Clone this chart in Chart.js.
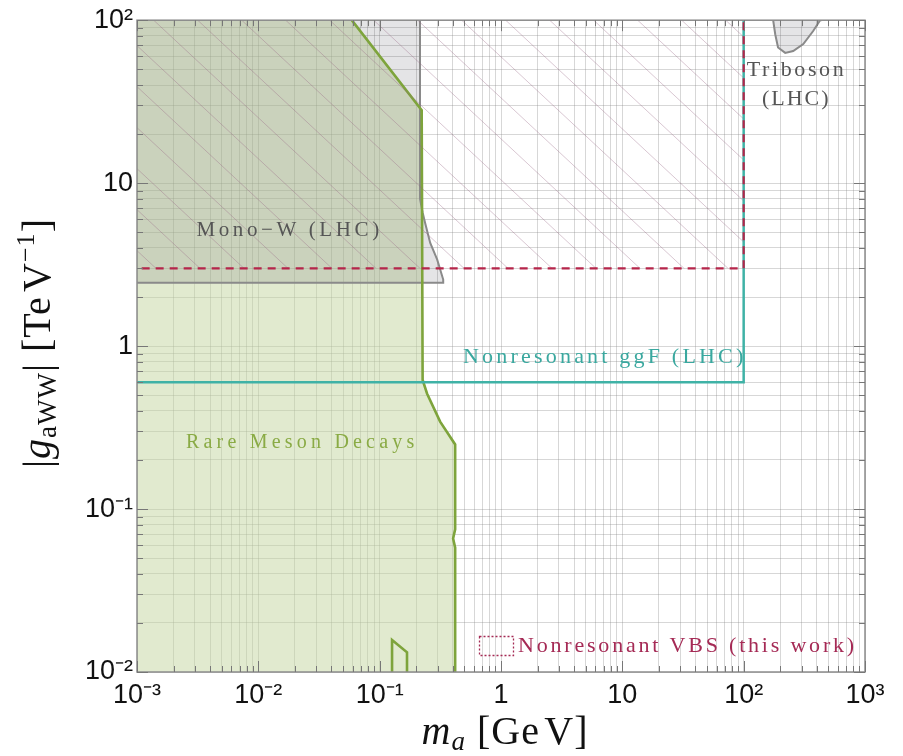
<!DOCTYPE html>
<html>
<head>
<meta charset="utf-8">
<script src="https://cdn.jsdelivr.net/npm/chart.js@4.4.0/dist/chart.umd.min.js"></script>
<style>
    body { margin: 0; background: #fff; }
    #wrap { position: relative; width: 903px; height: 756px; }
    .axt { position: absolute; font-family: "Liberation Serif", serif; font-size: 40px; color: #111; white-space: nowrap; line-height: 44px; text-align: center; }
    #xt { left: 305px; top: 709px; width: 400px; letter-spacing: 1px; }
    #yt { left: -163px; top: 321px; width: 400px; height: 44px; transform: rotate(-90deg); letter-spacing: 1px; }
    .axt sub { font-size: 27px; vertical-align: -6px; line-height: 0; }
    .axt sup { font-size: 26px; vertical-align: 16px; line-height: 0; }
</style>
</head>
<body>
<div id="wrap">
    <canvas id="c" width="903" height="756"></canvas>
    <div class="axt" id="xt"><i>m</i><sub><i>a</i></sub> [Ge&#8202;V]</div>
    <div class="axt" id="yt">|<i>g</i><sub>aWW</sub>| [Te&#8202;V<sup>&minus;1</sup>]</div>
</div>
<script>
    // tick labels
    const xTickValues = [1e-3, 1e-2, 1e-1, 1, 10, 100, 1000];
    const xTickLabels = ['10⁻³', '10⁻²', '10⁻¹', '1', '10', '10²', '10³'];
    const yTickValues = [1e-2, 1e-1, 1, 10, 100];
    const yTickLabels = ['10⁻²', '10⁻¹', '1', '10', '10²'];

    // rare meson decays (closed outline, outer corners lie outside the plot)
    const mesonX = [1e-4, 0.059, 0.059, 0.222, 0.226, 0.246, 0.315, 0.419, 0.419, 0.403, 0.419, 0.419, 1e-4];
    const mesonY = [1e3, 1e3, 100, 28, 0.62, 0.51, 0.344, 0.249, 0.075, 0.066, 0.058, 1e-3, 1e-3];
    const spikeX = [0.1265, 0.1265, 0.168, 0.168];
    const spikeY = [0.005, 0.0157, 0.0132, 0.005];

    // mono-W (LHC)
    const monoX = [1e-4, 0.334, 0.334, 0.298, 0.261, 0.237, 0.226, 0.215, 0.215, 1e-4];
    const monoY = [2.45, 2.45, 2.56, 3.39, 4.3, 5.7, 6.6, 8, 1e3, 1e3];

    // triboson (LHC)
    const triX = [172, 175, 182, 192, 220, 256, 310, 374, 427, 430];
    const triY = [300, 100, 82, 68, 63, 64.7, 71.4, 85.8, 100, 300];

    // nonresonant ggF (LHC)
    const ggfX = [1e-4, 100, 100];
    const ggfY = [0.6, 0.6, 1e3];

    // nonresonant VBS (this work)
    const vbsX = [1e-4, 100, 100, 1e-4];
    const vbsY = [3, 3, 1e3, 1e3];

    const pts = (xs, ys) => xs.map((v, i) => ({ x: v, y: ys[i] }));

    function hatch() {
        const t = document.createElement('canvas');
        const w = 44, h = 41;
        t.width = w; t.height = h;
        const g = t.getContext('2d');
        g.strokeStyle = 'rgba(150,100,130,0.36)';
        g.lineWidth = 1;
        for (const dx of [-w, 0, w]) {
            g.beginPath();
            g.moveTo(dx, 0);
            g.lineTo(dx + w, h);
            g.stroke();
        }
        return g.createPattern(t, 'repeat');
    }

    function logTicks(lo, hi) {
        const out = [];
        for (let e = lo; e < hi; e++) {
            for (let m = 1; m < 10; m++) out.push({ value: m * Math.pow(10, e) });
        }
        out.push({ value: Math.pow(10, hi) });
        return out;
    }

    function labelFor(v, vals, labs) {
        const i = vals.findIndex(d => Math.abs(Math.log10(v) - Math.log10(d)) < 1e-6);
        return i < 0 ? '' : labs[i];
    }

    const isDecade = v => Math.abs(Math.log10(v) - Math.round(Math.log10(v))) < 1e-6;

    const notes = [
        { text: 'Mono\u2212W (LHC)', x: 0.0175, y: 5.1, size: 21, ls: 3.6, color: '#555' },
        { text: 'Triboson', x: 266, y: 49.5, size: 22, ls: 2.6, color: '#555' },
        { text: '(LHC)', x: 266, y: 32.8, size: 22, ls: 2, color: '#555' },
        { text: 'Nonresonant ggF (LHC)', x: 6.95, y: 0.857, size: 22, ls: 3.2, color: '#3aa89f' },
        { text: 'Rare Meson Decays', x: 0.0221, y: 0.256, size: 20, ls: 4.2, color: '#8aab45' }
    ];

    const overlay = {
        id: 'overlay',
        afterDatasetsDraw(chart) {
            const { ctx, chartArea: a, scales: { x, y } } = chart;
            ctx.save();
            ctx.strokeStyle = '#8c8c8c';
            ctx.lineWidth = 1.5;
            ctx.strokeRect(a.left, a.top, a.right - a.left, a.bottom - a.top);

            ctx.strokeStyle = '#777';
            ctx.lineWidth = 1;
            ctx.beginPath();
            x.ticks.forEach(t => {
                const px = Math.round(x.getPixelForValue(t.value)) + 0.5;
                const len = isDecade(t.value) ? 11 : 6;
                ctx.moveTo(px, a.bottom); ctx.lineTo(px, a.bottom - len);
                ctx.moveTo(px, a.top); ctx.lineTo(px, a.top + len);
            });
            y.ticks.forEach(t => {
                const py = Math.round(y.getPixelForValue(t.value)) + 0.5;
                const len = isDecade(t.value) ? 11 : 6;
                ctx.moveTo(a.left, py); ctx.lineTo(a.left + len, py);
                ctx.moveTo(a.right, py); ctx.lineTo(a.right - len, py);
            });
            ctx.stroke();

            ctx.textAlign = 'center';
            ctx.textBaseline = 'middle';
            notes.forEach(n => {
                ctx.font = n.size + 'px "Liberation Serif"';
                ctx.letterSpacing = n.ls + 'px';
                ctx.fillStyle = n.color;
                ctx.fillText(n.text, x.getPixelForValue(n.x) + n.ls / 2, y.getPixelForValue(n.y));
            });

            // legend
            ctx.setLineDash([2, 2]);
            ctx.strokeStyle = '#a52a55';
            ctx.lineWidth = 1.3;
            ctx.strokeRect(a.left + 342.5, a.bottom - 35.5, 34, 19);
            ctx.setLineDash([]);
            ctx.font = '22px "Liberation Serif"';
            ctx.letterSpacing = '2.8px';
            ctx.fillStyle = '#a52a55';
            ctx.textAlign = 'left';
            ctx.fillText('Nonresonant VBS (this work)', a.left + 381, a.bottom - 26);
            ctx.restore();
        }
    };

    const gridColor = 'rgba(140,140,140,0.35)';

    new Chart(document.getElementById('c'), {
        type: 'scatter',
        data: {
            datasets: [
                { label: 'VBS', data: pts(vbsX, vbsY), order: 0, showLine: true, pointRadius: 0,
                  borderColor: '#b5254a', borderWidth: 2.2, borderDash: [8, 6], fill: 'shape', backgroundColor: hatch() },
                { label: 'ggF', data: pts(ggfX, ggfY), order: 1, showLine: true, pointRadius: 0,
                  borderColor: '#3fb2a6', borderWidth: 2.5, fill: false },
                { label: 'Meson line', data: pts(mesonX, mesonY), order: 2, showLine: true, pointRadius: 0,
                  borderColor: '#7ea43c', borderWidth: 2.6, fill: false },
                { label: 'Meson spike', data: pts(spikeX, spikeY), order: 2, showLine: true, pointRadius: 0,
                  borderColor: '#7ea43c', borderWidth: 2.6, fill: false },
                { label: 'Mono-W', data: pts(monoX, monoY), order: 3, showLine: true, pointRadius: 0,
                  borderColor: '#8a8a8a', borderWidth: 2, fill: 'shape', backgroundColor: 'rgba(50,50,60,0.13)' },
                { label: 'Triboson', data: pts(triX, triY), order: 3, showLine: true, pointRadius: 0,
                  borderColor: '#8a8a8a', borderWidth: 2, fill: 'shape', backgroundColor: 'rgba(50,50,60,0.13)' },
                { label: 'Meson fill', data: pts(mesonX, mesonY), order: 4, showLine: true, pointRadius: 0,
                  borderWidth: 0, borderColor: 'rgba(0,0,0,0)', fill: 'shape', backgroundColor: 'rgba(195,214,160,0.5)' }
            ]
        },
        options: {
            responsive: false,
            devicePixelRatio: 1,
            animation: false,
            events: [],
            layout: { padding: { top: 16, right: 38, left: 0, bottom: 0 } },
            plugins: { legend: { display: false }, tooltip: { enabled: false } },
            elements: { line: { tension: 0 } },
            scales: {
                x: {
                    type: 'logarithmic', min: 1e-3, max: 1e3,
                    afterBuildTicks: s => { s.ticks = logTicks(-3, 3); },
                    afterFit: s => { s.height = 84; },
                    grid: { color: gridColor, drawTicks: false },
                    border: { display: false },
                    ticks: {
                        autoSkip: false, maxRotation: 0, padding: 7, color: '#111',
                        font: { family: 'Liberation Sans', size: 27 },
                        callback: v => labelFor(v, xTickValues, xTickLabels)
                    }
                },
                y: {
                    type: 'logarithmic', min: 1e-2, max: 1e2,
                    afterBuildTicks: s => { s.ticks = logTicks(-2, 2); },
                    afterFit: s => { s.width = 137; },
                    grid: { color: gridColor, drawTicks: false },
                    border: { display: false },
                    ticks: {
                        autoSkip: false, padding: 4, color: '#111',
                        font: { family: 'Liberation Sans', size: 27 },
                        callback: v => labelFor(v, yTickValues, yTickLabels)
                    }
                }
            }
        },
        plugins: [overlay]
    });
</script>
</body>
</html>
